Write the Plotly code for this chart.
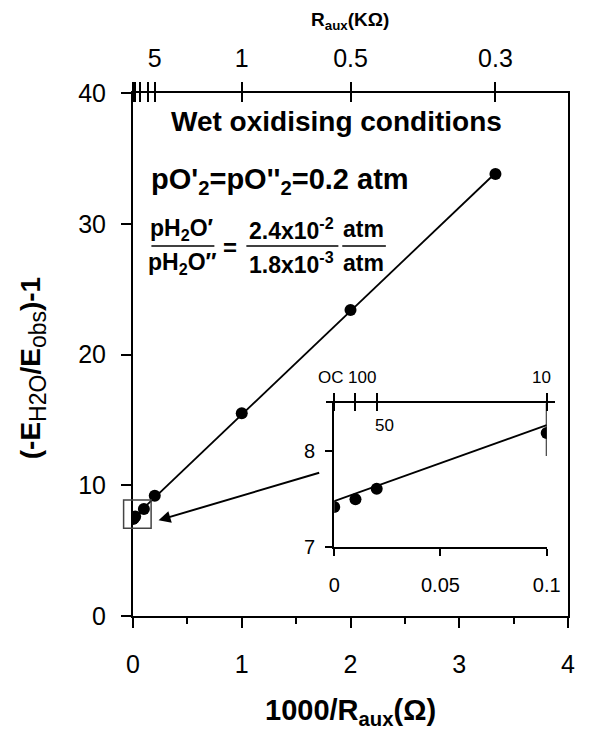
import numpy as np
import plotly.graph_objects as go

# Measured data: inverse auxiliary resistance vs (-E_H2O/E_obs)-1
inv_r = [0.0, 0.01, 0.02, 0.1, 0.2, 1.0, 2.0, 3.333]
ratio = [7.42, 7.50, 7.61, 8.19, 9.2, 15.5, 23.4, 33.8]

# Inset subset (low 1000/R region)
inset_x = [0.0, 0.01, 0.02, 0.1]
inset_y = [7.42, 7.50, 7.61, 8.19]

# Top axis of the main plot: R_aux in kOhm
top_tickvals = [0.0, 0.01, 0.02, 0.065, 0.134, 0.2, 1.0, 2.0, 3.333]
top_labelvals = [0.2, 1.0, 2.0, 3.333]
top_labeltext = ["5", "1", "0.5", "0.3"]

# Top axis of the inset: R_aux in kOhm (OC = open circuit)
inset_top_vals = [0.0, 0.01, 0.02, 0.1]
inset_top_text = ["OC", "100", "50", "10"]

FONT = "Arial, Liberation Sans, sans-serif"

# Plot-area geometry in pixels (for paper-coordinate annotations)
L, R, T, B = 133, 10, 93, 115
W, H = 592, 731
PW, PH = W - L - R, H - T - B


def px(x):
    return (x - L) / PW


def py(y):
    return (H - B - y) / PH


slope, intercept = np.polyfit(inv_r, ratio, 1)
fit_x = np.array([0.0, max(inv_r)])
fit_y = intercept + slope * fit_x
fit_xi = np.array([0.0, max(inset_x)])
fit_yi = intercept + slope * fit_xi

fig = go.Figure()

# Main plot
fig.add_trace(go.Scatter(x=fit_x, y=fit_y, mode="lines",
                         line=dict(color="black", width=1.8),
                         hoverinfo="skip", showlegend=False))
fig.add_trace(go.Scatter(x=inv_r, y=ratio, mode="markers",
                         marker=dict(color="black", size=12),
                         showlegend=False))
# Anchor traces for the top axes
for ax in ("x2", "x3", "x7"):
    fig.add_trace(go.Scatter(x=[0], y=[0], xaxis=ax, yaxis="y", mode="markers",
                             marker=dict(opacity=0), hoverinfo="skip",
                             showlegend=False))

# Inset
fig.add_trace(go.Scatter(x=fit_xi, y=fit_yi, xaxis="x4", yaxis="y4", mode="lines",
                         line=dict(color="black", width=1.8),
                         hoverinfo="skip", showlegend=False))
fig.add_trace(go.Scatter(x=[max(inset_x), max(inset_x)], y=[8.5, 7.95],
                         xaxis="x4", yaxis="y4", mode="lines",
                         line=dict(color="black", width=1.8),
                         hoverinfo="skip", showlegend=False))
fig.add_trace(go.Scatter(x=inset_x, y=inset_y, xaxis="x4", yaxis="y4",
                         mode="markers", marker=dict(color="black", size=12),
                         showlegend=False))
for ax in ("x5", "x6"):
    fig.add_trace(go.Scatter(x=[0], y=[7], xaxis=ax, yaxis="y4", mode="markers",
                             marker=dict(opacity=0), hoverinfo="skip",
                             showlegend=False))

tickfont = dict(family=FONT, size=25, color="black")
inset_font = dict(family=FONT, size=20, color="black")

# inset domains (paper fractions)
ix0, ix1 = px(340.7), px(560)
iy0, iy1 = py(547.3), py(403.3)
ext = 9 / (560 - 340.7) * 0.1  # top-axis overhang in data units

axis_common = dict(showgrid=False, zeroline=False, tickcolor="black", tickwidth=2)

fig.update_layout(
    width=W, height=H,
    margin=dict(l=L, r=R, t=T, b=B),
    paper_bgcolor="white", plot_bgcolor="rgba(0,0,0,0)",
    font=dict(family=FONT, color="black"),
    xaxis=dict(range=[0, 4], tickvals=[0, 1, 2, 3, 4], ticks="outside",
               ticklen=10,
               minor=dict(dtick=0.5, ticks="outside", ticklen=6, tickwidth=2,
                          tickcolor="black"),
               showline=True, linewidth=2, linecolor="black",
               tickfont=tickfont, ticklabelstandoff=15, **axis_common),
    yaxis=dict(range=[0, 40], tickvals=[0, 10, 20, 30, 40], ticks="outside",
               ticklen=10, showline=True, linewidth=2, linecolor="black",
               mirror=True, tickfont=tickfont, ticklabelstandoff=10,
               **axis_common),
    xaxis2=dict(overlaying="x", side="top", anchor="y", range=[0, 4],
                tickvals=top_tickvals, showticklabels=False,
                ticks="outside", ticklen=9,
                showline=True, linewidth=2, linecolor="black", **axis_common),
    xaxis3=dict(overlaying="x", side="top", anchor="y", range=[0, 4],
                tickvals=top_tickvals, showticklabels=False,
                ticks="inside", ticklen=9, showline=False, **axis_common),
    xaxis7=dict(overlaying="x", side="top", anchor="y", range=[0, 4],
                tickvals=top_labelvals, ticktext=top_labeltext, ticks="",
                showline=False, tickfont=tickfont, ticklabelstandoff=20,
                **axis_common),
    xaxis4=dict(domain=[ix0, ix1], anchor="y4", range=[0, 0.1],
                tickvals=[0, 0.05, 0.1], ticktext=["0", "0.05", "0.1"],
                ticks="outside", ticklen=7,
                showline=True, linewidth=2, linecolor="black",
                tickfont=inset_font, ticklabelstandoff=12, **axis_common),
    yaxis4=dict(domain=[iy0, iy1], anchor="x4", range=[7, 8.5],
                tickvals=[7, 8], ticks="outside", ticklen=7,
                showline=True, linewidth=2, linecolor="black",
                tickfont=inset_font, ticklabelstandoff=6, **axis_common),
    xaxis5=dict(domain=[px(340.7 - 9), px(560 + 9)], anchor="y4", side="top",
                range=[-ext, 0.1 + ext], tickvals=inset_top_vals,
                showticklabels=False, ticks="outside", ticklen=8,
                showline=True, linewidth=2, linecolor="black", **axis_common),
    xaxis6=dict(domain=[px(340.7 - 9), px(560 + 9)], anchor="y4", side="top",
                range=[-ext, 0.1 + ext], tickvals=inset_top_vals,
                showticklabels=False, ticks="inside", ticklen=8,
                showline=False, **axis_common),
)


def note(text, x, y, size, bold=True, **kw):
    return dict(text=f"<b>{text}</b>" if bold else text, x=x, y=y,
                xref=kw.pop("xref", "paper"), yref=kw.pop("yref", "paper"),
                xanchor=kw.pop("xanchor", "center"), yanchor="middle",
                showarrow=False, font=dict(family=FONT, size=size, color="black"),
                **kw)


ann = []
# axis titles
ann.append(note("1000/R<sub>aux</sub>(Ω)", px(358), py(712), 29))
ann.append(note("(-E</b><sub><span style='font-size:23px'>H2O</span></sub>"
                "<b>/E</b><sub><span style='font-size:23px'>obs</span></sub><b>)-1",
                px(30), py(368), 28, textangle=-90))
ann.append(note("R<sub>aux</sub>(KΩ)", px(357), py(21), 19))
# conditions
ann.append(note("Wet oxidising conditions", px(343), py(122), 28))
ann.append(note("pO'<sub>2</sub>=pO''<sub>2</sub>=0.2 atm", px(150), py(181), 29,
                xanchor="left"))
rows = [
    ("pH<sub>2</sub>O′", "pH<sub>2</sub>O″", 184),
    ("2.4x10<sup>-2</sup>", "1.8x10<sup>-3</sup>", 297),
    ("atm", "atm", 371),
]
for num, den, cx in rows:
    ann.append(note(num, px(cx), py(229), 23))
    ann.append(note(den, px(cx), py(263), 23))
ann.append(note("=", px(233), py(247), 24))
# inset top axis labels
lab_shift = {"OC": -3, "100": 7, "50": 8, "10": -5}
for v, t in zip(inset_top_vals, inset_top_text):
    below = t == "50"
    ann.append(note(t, v, py(425 if below else 377), 17, bold=False,
                    xref="x5", xshift=lab_shift[t]))
# arrow from the inset towards the boxed region near the origin
ann.append(dict(x=0.235, y=7.32, ax=1.726, ay=10.99, xref="x", yref="y",
                axref="x", ayref="y", text="", showarrow=True, arrowhead=2,
                arrowsize=1.2, arrowwidth=2, arrowcolor="black"))
fig.update_layout(annotations=ann)

shapes = []
for x0, x1 in [(152, 217), (250, 345), (349, 394)]:
    shapes.append(dict(type="line", xref="paper", yref="paper",
                       x0=px(x0), x1=px(x1), y0=py(246), y1=py(246),
                       line=dict(color="black", width=1.5)))
# box marking the zoomed region
shapes.append(dict(type="rect", xref="paper", yref="paper",
                   x0=px(123.3), x1=px(151.7), y0=py(528.3), y1=py(500),
                   line=dict(color="#444", width=1.5)))
fig.update_layout(shapes=shapes)

fig.write_html("out.html")
